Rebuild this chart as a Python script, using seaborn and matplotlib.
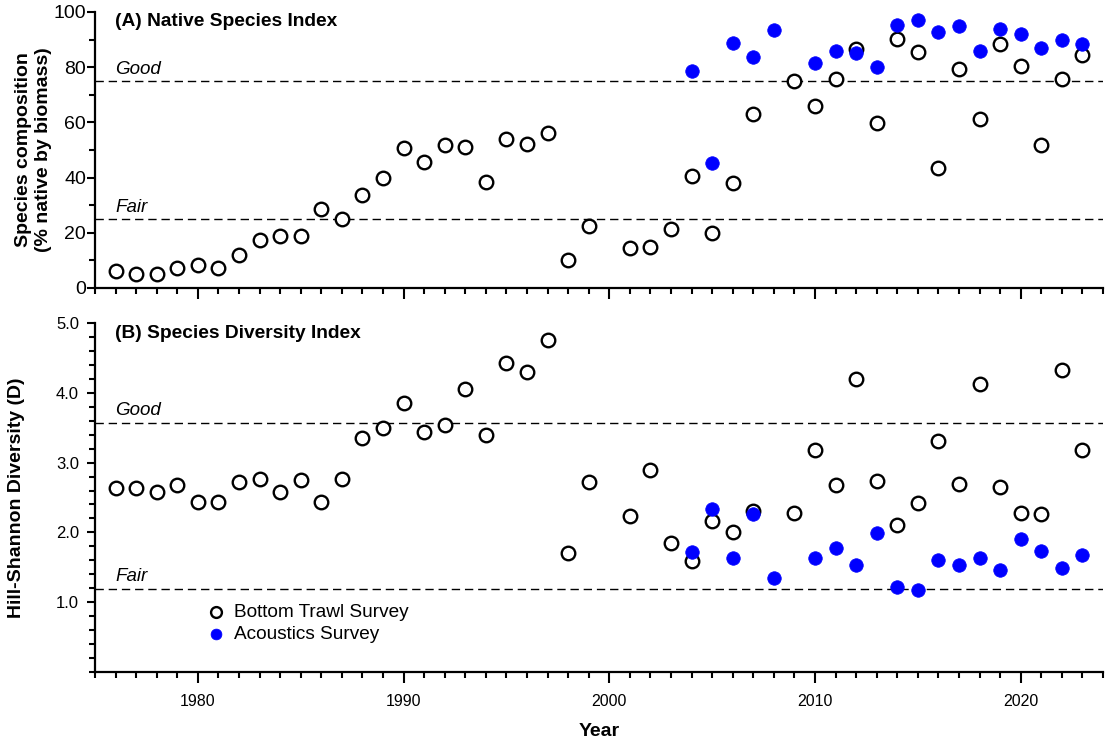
import numpy as np
import pandas as pd
import matplotlib
matplotlib.use("Agg")
import matplotlib.pyplot as plt
from matplotlib.ticker import MultipleLocator, FixedLocator
import seaborn as sns

# ---------------- data ----------------
trawl_years = [1976, 1977, 1978, 1979, 1980, 1981, 1982, 1983, 1984, 1985, 1986, 1987,
               1988, 1989, 1990, 1991, 1992, 1993, 1994, 1995, 1996, 1997, 1998, 1999,
               2001, 2002, 2003, 2004, 2005, 2006, 2007, 2009, 2010, 2011, 2012, 2013,
               2014, 2015, 2016, 2017, 2018, 2019, 2020, 2021, 2022, 2023]
trawl_native = [6.0, 5.1, 5.1, 7.1, 8.4, 7.1, 12.0, 17.5, 18.7, 19.0, 28.6, 25.1,
                33.7, 40.0, 50.7, 45.8, 51.8, 51.2, 38.5, 54.1, 52.3, 56.0, 10.2, 22.3,
                14.5, 14.9, 21.2, 40.6, 19.9, 38.2, 63.1, 75.0, 65.8, 75.7, 86.6, 59.8,
                90.2, 85.6, 43.3, 79.5, 61.4, 88.4, 80.4, 51.9, 75.6, 84.3]
trawl_diversity = [2.64, 2.64, 2.58, 2.68, 2.43, 2.43, 2.72, 2.76, 2.58, 2.75, 2.44, 2.77,
                   3.35, 3.49, 3.86, 3.44, 3.54, 4.06, 3.40, 4.43, 4.30, 4.76, 1.71, 2.72,
                   2.23, 2.89, 1.85, 1.59, 2.17, 2.01, 2.31, 2.28, 3.18, 2.68, 4.20, 2.73,
                   2.11, 2.42, 3.31, 2.70, 4.12, 2.65, 2.28, 2.26, 4.32, 3.18]

acoustic_years = [2004, 2005, 2006, 2007, 2008, 2010, 2011, 2012, 2013, 2014, 2015,
                  2016, 2017, 2018, 2019, 2020, 2021, 2022, 2023]
acoustic_native = [78.6, 45.2, 88.7, 83.7, 93.6, 81.7, 85.8, 85.3, 80.1, 95.4, 97.0,
                   92.8, 94.9, 86.0, 93.7, 91.9, 87.0, 90.0, 88.4]
acoustic_diversity = [1.72, 2.33, 1.64, 2.27, 1.35, 1.63, 1.78, 1.53, 1.99, 1.22, 1.18,
                      1.60, 1.54, 1.63, 1.46, 1.90, 1.74, 1.49, 1.67]

native_thresholds = {"Good": 75, "Fair": 25}
diversity_thresholds = {"Good": 3.57, "Fair": 1.19}
series_labels = ["Bottom Trawl Survey", "Acoustics Survey"]

trawl_df = pd.DataFrame({"Year": trawl_years, "native": trawl_native, "div": trawl_diversity})
acou_df = pd.DataFrame({"Year": acoustic_years, "native": acoustic_native, "div": acoustic_diversity})

# ---------------- style ----------------
sns.set_theme(style="ticks")
plt.rcParams["font.family"] = ["Liberation Sans", "DejaVu Sans"]
plt.rcParams["axes.linewidth"] = 1.6
for k in ["text.color", "axes.labelcolor", "xtick.color", "ytick.color", "axes.edgecolor"]:
    plt.rcParams[k] = "black"

fig = plt.figure(figsize=(11.1, 7.4), dpi=100)
ax1 = fig.add_axes([95 / 1110, 1 - 288 / 740, 1008 / 1110, 276 / 740])
ax2 = fig.add_axes([95 / 1110, 1 - 672 / 740, 1008 / 1110, 349 / 740])

blue = "#0000FF"
msize = 95

for ax, col, thr in [(ax1, "native", native_thresholds), (ax2, "div", diversity_thresholds)]:
    sns.scatterplot(data=trawl_df, x="Year", y=col, ax=ax, color="white", edgecolor="black",
                    linewidth=1.7, s=msize, zorder=3, label=series_labels[0])
    sns.scatterplot(data=acou_df, x="Year", y=col, ax=ax, color=blue, edgecolor=blue,
                    linewidth=0.5, s=msize, zorder=4, label=series_labels[1])
    for name, val in thr.items():
        ax.axhline(val, color="black", linestyle=(0, (6, 3.5)), linewidth=1.0, zorder=1)
    ax.set_xlim(1975, 2024)
    ax.xaxis.set_major_locator(FixedLocator([1980, 1990, 2000, 2010, 2020]))
    ax.xaxis.set_minor_locator(MultipleLocator(1))
    sns.despine(ax=ax)
    ax.tick_params(axis="both", which="major", direction="out", width=1.5, length=5.5, color="black")
    ax.tick_params(axis="both", which="minor", direction="out", width=1.5, length=4, color="black")
    ax.tick_params(axis="x", which="major", length=8)

# top panel
ax1.set_ylim(0, 100)
ax1.yaxis.set_major_locator(MultipleLocator(20))
ax1.yaxis.set_minor_locator(MultipleLocator(10))
ax1.tick_params(axis="y", labelsize=14, pad=1)
ax1.tick_params(axis="x", labelbottom=False)
ax1.set_xlabel("")
ax1.set_ylabel("Species composition\n(% native by biomass)", fontsize=14, fontweight="bold",
               linespacing=1.2)
ax1.yaxis.set_label_coords(-0.043, 0.5)
ax1.legend_.remove()
ax1.text(0.02, 0.995, "(A) Native Species Index", transform=ax1.transAxes, ha="left", va="top",
         fontsize=13.8, fontweight="bold")
ax1.text(1976, native_thresholds["Good"] + 1.2, "Good", style="italic", fontsize=13.5, va="bottom")
ax1.text(1976, native_thresholds["Fair"] + 1.2, "Fair", style="italic", fontsize=13.5, va="bottom")

# bottom panel
ax2.set_ylim(0, 5)
ax2.yaxis.set_major_locator(FixedLocator([1, 2, 3, 4, 5]))
ax2.yaxis.set_minor_locator(MultipleLocator(0.2))
ax2.yaxis.set_major_formatter(matplotlib.ticker.FormatStrFormatter("%.1f"))
ax2.tick_params(axis="y", labelsize=12, pad=6)
ax2.tick_params(axis="x", labelsize=11.5, pad=8)
ax2.set_ylabel("Hill-Shannon Diversity (D)", fontsize=14, fontweight="bold")
ax2.yaxis.set_label_coords(-0.069, 0.5)
ax2.set_xlabel("Year", fontsize=14, fontweight="bold", labelpad=10)
ax2.text(0.02, 0.995, "(B) Species Diversity Index", transform=ax2.transAxes, ha="left", va="top",
         fontsize=13.8, fontweight="bold")
ax2.text(1976, diversity_thresholds["Good"] + 0.06, "Good", style="italic", fontsize=13.5, va="bottom")
ax2.text(1976, diversity_thresholds["Fair"] + 0.06, "Fair", style="italic", fontsize=13.5, va="bottom")
handles, labels = ax2.get_legend_handles_labels()
ax2.legend(handles, labels, loc="lower left", bbox_to_anchor=(0.089, 0.035), frameon=False,
           fontsize=13.7, handlelength=1.5, handletextpad=0.2, labelspacing=0.25, markerscale=0.8)

fig.savefig("out.png", dpi=100)
